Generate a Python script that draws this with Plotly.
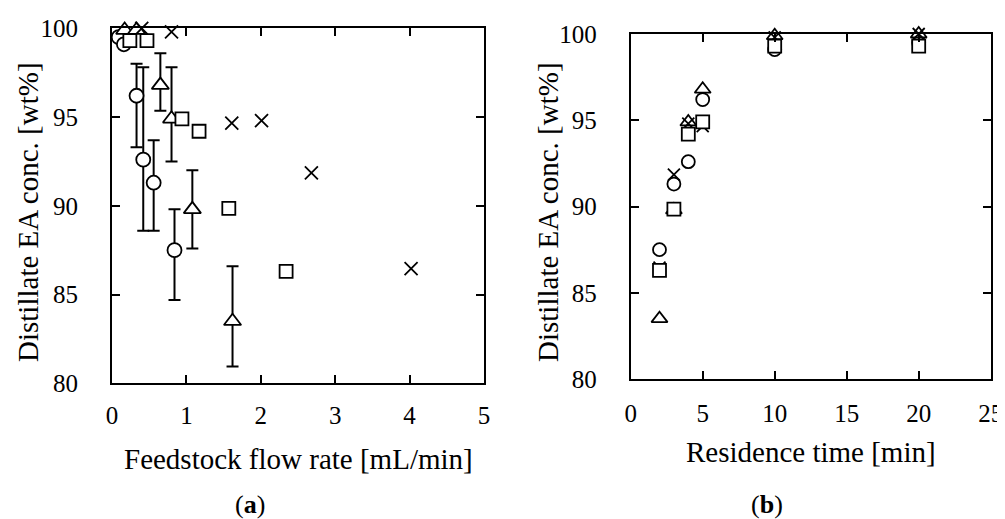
import plotly.graph_objects as go

# ---------------- data: panel (a) flow rate ----------------
circ_a_x = [0.09, 0.16, 0.33, 0.42, 0.56, 0.84]
circ_a_y = [99.5, 99.1, 96.2, 92.6, 91.3, 87.5]
circ_a_ep = [0, 0, 1.8, 5.2, 2.4, 2.3]
circ_a_em = [0, 0, 2.9, 4.0, 2.7, 2.8]

tri_a_x = [0.17, 0.33, 0.65, 0.80, 1.08, 1.62]
tri_a_y = [99.9, 99.9, 96.8, 94.9, 89.8, 83.5]
tri_a_ep = [0, 0, 1.8, 2.9, 2.2, 3.1]
tri_a_em = [0, 0, 1.45, 2.4, 2.2, 2.55]

sq_a_x = [0.24, 0.47, 0.94, 1.17, 1.57, 2.34]
sq_a_y = [99.3, 99.3, 94.9, 94.2, 89.85, 86.3]

x_a_x = [0.40, 0.80, 1.61, 2.01, 2.68, 4.02]
x_a_y = [100.0, 99.8, 94.66, 94.8, 91.85, 86.46]

# ---------------- data: panel (b) residence time ----------------
rt = [2, 3, 4, 5, 10, 20]
circ_b_y = [87.5, 91.3, 92.6, 96.2, 99.1, 99.5]
tri_b_y = [83.5, 89.8, 94.9, 96.8, 99.9, 100.0]
x_b_y = [86.46, 91.85, 94.8, 94.66, 99.8, 100.0]
sq_b_y = [86.3, 89.85, 94.2, 94.9, 99.3, 99.3]

# tick values
a_xticks = [0, 1, 2, 3, 4, 5]
b_xticks = [0, 5, 10, 15, 20, 25]
yticks = [80, 85, 90, 95, 100]

FONT = "Liberation Serif"
LW = 1.8

# page has an 8px body margin; figure is sized to fit the window
OFF = 8
W, H = 1005 - OFF, 519 - OFF


def PX(px):
    return (px - OFF) / W


def PY(py):
    return 1 - (py - OFF) / H


def mk(symbol, size):
    return dict(symbol=symbol, size=size, color="white",
                line=dict(color="black", width=LW))


def err(plus, minus):
    return dict(type="data", symmetric=False, array=plus, arrayminus=minus,
                color="black", thickness=2, width=6)


fig = go.Figure()

# panel (a)
fig.add_trace(go.Scatter(x=circ_a_x, y=circ_a_y, mode="markers", marker=mk("circle", 14),
                         error_y=err(circ_a_ep, circ_a_em), xaxis="x", yaxis="y", cliponaxis=False))
fig.add_trace(go.Scatter(x=tri_a_x, y=tri_a_y, mode="markers", marker=mk("triangle-up", 15),
                         error_y=err(tri_a_ep, tri_a_em), xaxis="x", yaxis="y", cliponaxis=False))
fig.add_trace(go.Scatter(x=x_a_x, y=x_a_y, mode="markers",
                         marker=dict(symbol="x-thin", size=13, line=dict(color="black", width=LW)),
                         xaxis="x", yaxis="y", cliponaxis=False))
fig.add_trace(go.Scatter(x=sq_a_x, y=sq_a_y, mode="markers", marker=mk("square", 13),
                         xaxis="x", yaxis="y", cliponaxis=False))

# panel (b)
fig.add_trace(go.Scatter(x=rt, y=circ_b_y, mode="markers", marker=mk("circle", 13),
                         xaxis="x2", yaxis="y2", cliponaxis=False))
fig.add_trace(go.Scatter(x=rt, y=tri_b_y, mode="markers", marker=mk("triangle-up", 14),
                         xaxis="x2", yaxis="y2", cliponaxis=False))
fig.add_trace(go.Scatter(x=rt, y=x_b_y, mode="markers",
                         marker=dict(symbol="x-thin", size=12, line=dict(color="black", width=LW)),
                         xaxis="x2", yaxis="y2", cliponaxis=False))
fig.add_trace(go.Scatter(x=rt, y=sq_b_y, mode="markers", marker=mk("square", 13),
                         xaxis="x2", yaxis="y2", cliponaxis=False))

axis_common = dict(showline=True, linecolor="black", linewidth=2, mirror="ticks",
                   ticks="inside", ticklen=8, tickwidth=2, tickcolor="black",
                   showgrid=False, zeroline=False, automargin=False,
                   tickfont=dict(family=FONT, size=25, color="black"))

fig.update_layout(
    template="none",
    width=W, height=H,
    margin=dict(l=0, r=0, t=0, b=0),
    paper_bgcolor="white", plot_bgcolor="white",
    showlegend=False,
    xaxis=dict(domain=[PX(112), PX(484)], range=[0, 5], tickvals=a_xticks,
               anchor="y", ticklabelstandoff=9, **axis_common),
    yaxis=dict(domain=[PY(383.3), PY(28.3)], range=[80, 100], tickvals=yticks,
               anchor="x", ticklabelstandoff=27, **axis_common),
    xaxis2=dict(domain=[PX(630.7), PX(990.7)], range=[0, 25], tickvals=b_xticks,
                anchor="y2", ticklabelstandoff=11, **axis_common),
    yaxis2=dict(domain=[PY(379), PY(34)], range=[80, 100], tickvals=yticks,
                anchor="x2", ticklabelstandoff=27, **axis_common),
)

tf = dict(family=FONT, size=29, color="black")
ann = [
    dict(text="Feedstock flow rate [mL/min]", x=PX(298), y=PY(459)),
    dict(text="Residence time [min]", x=PX(811), y=PY(452)),
    dict(text="Distillate EA conc. [wt%]", x=PX(28), y=PY(212), textangle=-90),
    dict(text="Distillate EA conc. [wt%]", x=PX(548), y=PY(212), textangle=-90),
]
for a in ann:
    fig.add_annotation(xref="paper", yref="paper", xanchor="center", yanchor="middle",
                       showarrow=False, font=tf, **a)

pf = dict(family=FONT, size=26, color="black")
for txt, xc in [("(<b>a</b>)", 250), ("(<b>b</b>)", 767)]:
    fig.add_annotation(xref="paper", yref="paper", x=PX(xc), y=0, xanchor="center",
                       yanchor="bottom", yshift=-2, showarrow=False, font=pf, text=txt)

fig.write_html("out.html")
